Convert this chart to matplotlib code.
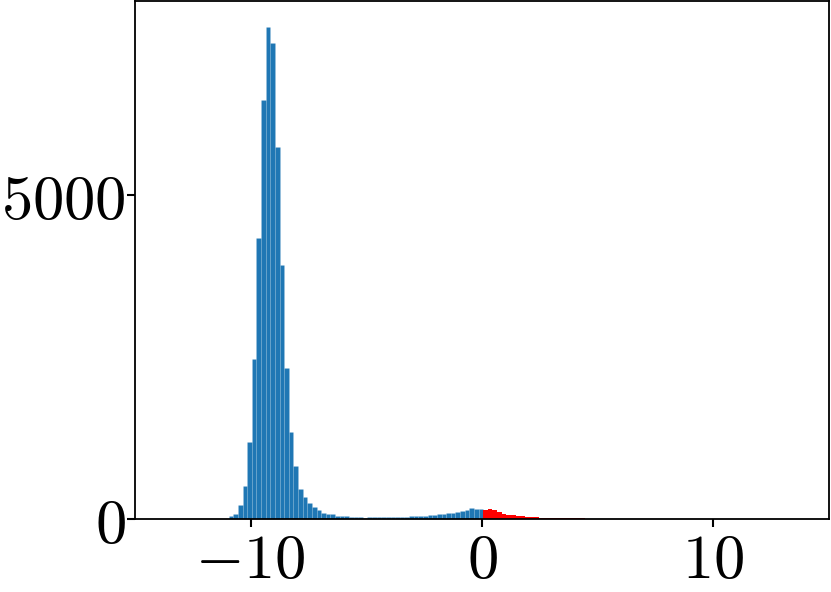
import numpy as np
import matplotlib
matplotlib.use("Agg")
import matplotlib.pyplot as plt

# Histogram data
bin_start = -10.95
bin_width = 0.2
blue_counts = [41, 77, 222, 505, 1185, 2463, 4344, 6473, 7601, 7348,
               5736, 3916, 2334, 1345, 820, 469, 340, 242, 180, 139,
               98, 82, 72, 52, 41, 41, 31, 31, 31, 21,
               25, 24, 26, 24, 28, 27, 30, 32, 35, 38,
               40, 44, 52, 55, 62, 68, 75, 85, 93, 100,
               115, 140, 170, 145, 160]
red_counts = [140, 148, 135, 105, 80, 64, 58, 50, 44, 33,
              28, 25, 18, 14, 10, 6, 8, 20, 18, 10,
              8, 6, 4, 5, 3, 2]
x_ticks = [-10, 0, 10]
x_tick_labels = [r"$-10$", r"$0$", r"$10$"]
y_ticks = [0, 5000]
y_tick_labels = [r"$0$", r"$5000$"]

plt.rcParams["mathtext.fontset"] = "cm"
plt.rcParams["font.family"] = ["DejaVu Serif"]

fig = plt.figure(figsize=(8.31, 5.92), dpi=100)
ax = fig.add_axes([0.1625, 0.1235, 0.835, 0.875])

n_blue = len(blue_counts)
n_red = len(red_counts)
edges = bin_start + bin_width * np.arange(n_blue + n_red + 1)
blue_edges = edges[:n_blue + 1]
red_edges = edges[n_blue:]

ax.hist(blue_edges[:-1], bins=blue_edges, weights=blue_counts, color="#1f77b4",
        edgecolor=(1, 1, 1, 0.1), linewidth=0.5)
ax.hist(red_edges[:-1], bins=red_edges, weights=red_counts, color="red")

ax.set_xlim(-15, 15)
ax.set_ylim(0, 8000)
ax.set_xticks(x_ticks)
ax.set_xticklabels(x_tick_labels)
ax.set_yticks(y_ticks)
ax.set_yticklabels(y_tick_labels)
ax.tick_params(axis="both", labelsize=45, length=6, width=1.5)
ax.tick_params(axis="x", pad=2)
ax.tick_params(axis="y", pad=0.5)
for s in ax.spines.values():
    s.set_linewidth(1.3)

fig.savefig("out.png", dpi=100)
